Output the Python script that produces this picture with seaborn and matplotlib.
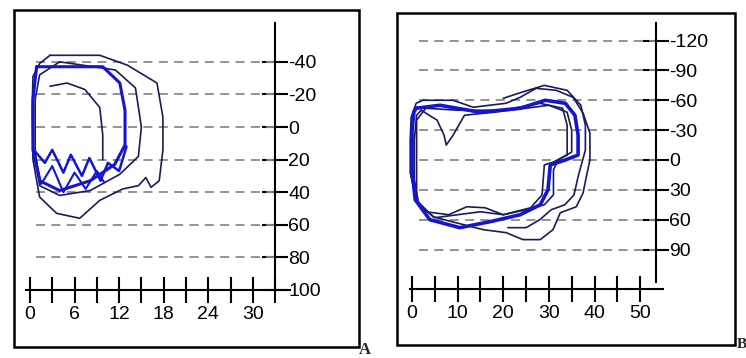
import pandas as pd
import matplotlib
matplotlib.use("Agg")
import matplotlib.pyplot as plt
import seaborn as sns
from matplotlib.patches import Rectangle

# ---- panel A: axes ----
a_xticks = [0, 3, 6, 9, 12, 15, 18, 21, 24, 27, 30, 33]
a_xlabels = [0, 6, 12, 18, 24, 30]
a_yticks = [-40, -20, 0, 20, 40, 60, 80, 100]
a_grid = [-40, -20, 0, 20, 40, 60, 80]

# ---- panel A: contours (x, y) ----
a_outer = [(2.7, -44), (9.4, -44), (13.1, -38), (17.1, -27), (17.9, -6), (17.9, 14),
           (17.4, 33), (16.3, 37), (15.6, 31), (14.6, 36), (12.5, 38), (9.4, 45),
           (6.7, 56), (3.6, 53), (1.3, 43), (0.4, 20), (0.3, -10), (0.4, -31), (1.3, -39)]
a_ring2 = [(4.0, -40), (11.5, -35), (14.2, -24), (15.0, 0), (14.6, 18), (12.1, 29),
           (8.1, 39), (4.0, 42), (1.3, 36), (0.7, 14), (0.7, -17), (1.3, -32)]
a_ring3 = [(0.9, -37), (9.8, -37), (12.1, -27), (12.8, -10), (12.8, 11), (11.4, 23),
           (8.1, 33), (4.0, 39), (1.3, 33), (0.4, 14), (0.4, -17)]
a_inner = [(2.7, -25), (5.0, -27), (7.4, -23), (9.4, -12), (9.8, 5), (9.8, 20)]
a_zig1 = [(0.5, 14), (2.0, 22), (3.0, 14), (4.5, 28), (5.5, 17), (7.0, 30), (8.0, 19),
          (9.5, 33), (10.5, 22), (12.0, 27), (13.0, 12)]
a_zig2 = [(0.8, 20), (1.5, 35), (3.0, 24), (4.5, 40), (6.0, 28), (7.5, 38), (9.0, 27),
          (10.0, 34)]

# ---- panel B: axes ----
b_xticks = [0, 5, 10, 15, 20, 25, 30, 35, 40, 45, 50]
b_xlabels = [0, 10, 20, 30, 40, 50]
b_yticks = [-120, -90, -60, -30, 0, 30, 60, 90]
b_grid = [-120, -90, -60, -30, 0, 30, 60, 90]

# ---- panel B: contours ----
b_outer = [(2.4, -60), (9.0, -60), (13.4, -53), (20.6, -57), (23.7, -63), (27.2, -72),
           (31.6, -70), (35.3, -63), (37.5, -47), (39.0, -27), (39.0, 0), (38.2, 17),
           (37.5, 33), (36.0, 47), (32.5, 53), (30.9, 70), (28.1, 80), (24.3, 80),
           (20.6, 73), (15.6, 70), (9.6, 63), (4.6, 57), (0.9, 40), (-0.4, 13),
           (-0.4, -20), (-0.2, -43), (0.9, -57)]
b_ring2 = [(0.9, -52), (6.1, -55), (14.9, -48), (23.7, -52), (29.2, -60), (33.6, -57),
           (35.7, -45), (36.4, -25), (36.4, -5), (33.6, 0), (30.3, 5), (29.8, 30),
           (28.1, 45), (23.7, 55), (17.1, 62), (10.5, 68), (3.9, 60), (0.7, 40),
           (0.0, 10), (0.0, -30), (0.4, -48)]
b_ring3 = [(2.0, -50), (5.5, -40), (7.0, -25), (7.5, -15), (9.0, -25), (11.5, -45),
           (18.0, -48), (25.0, -52), (30.0, -55), (34.0, -48), (35.0, -30), (35.0, -8),
           (32.0, 0), (31.0, 10), (31.0, 35), (29.0, 45), (25.0, 50), (20.0, 55),
           (15.0, 52), (10.0, 55), (5.0, 58), (1.5, 45), (0.5, 20), (0.5, -20), (1.0, -45)]
b_ring4 = [(3.0, -52), (10.0, -50), (20.0, -50), (28.0, -57), (33.0, -52), (34.0, -35),
           (34.0, -5), (31.0, 2), (29.0, 5), (28.5, 35), (26.0, 48), (20.0, 55),
           (16.0, 48), (12.0, 47), (8.0, 55), (3.0, 52), (1.0, 40), (1.0, -40)]
b_ring5 = [(20.0, -62), (24.0, -68), (29.0, -75), (34.0, -70), (37.0, -55), (38.0, -35),
           (38.0, -10), (36.5, 15), (35.5, 35), (33.5, 45), (30.5, 50), (28.0, 60),
           (25.0, 68), (21.0, 68)]

DARK = "#1b1b5c"
BLUE = "#1414d4"

sns.set_style("white")
plt.rcParams["font.family"] = ["Liberation Sans", "DejaVu Sans"]

fig = plt.figure(figsize=(7.46, 3.58), dpi=100)
axA = fig.add_axes([14 / 746, 1 - 347 / 358, 345 / 746, 337 / 358])
axB = fig.add_axes([397 / 746, 1 - 345 / 358, 338 / 746, 332 / 358])


def draw_curve(ax, pts, color, lw, closed=True):
    if closed:
        pts = pts + [pts[0]]
    df = pd.DataFrame(pts, columns=["x", "y"])
    sns.lineplot(data=df, x="x", y="y", sort=False, estimator=None,
                 color=color, linewidth=lw, ax=ax)


def setup(ax, xticks, xlabels, yticks, grid, yax_x, xax_y, ybounds, xbounds,
          gstart, xlim, ylim):
    ax.set_xlim(*xlim)
    ax.set_ylim(*ylim)
    for s in ["left", "top"]:
        ax.spines[s].set_visible(False)
    ax.spines["right"].set_position(("data", yax_x))
    ax.spines["right"].set_bounds(*ybounds)
    ax.spines["bottom"].set_position(("data", xax_y))
    ax.spines["bottom"].set_bounds(*xbounds)
    for s in ["right", "bottom"]:
        ax.spines[s].set_visible(True)
        ax.spines[s].set_linewidth(1.5)
        ax.spines[s].set_color("black")
    ax.yaxis.tick_right()
    ax.xaxis.tick_bottom()
    ax.set_xticks(xticks)
    ax.set_xticklabels([str(t) if t in xlabels else "" for t in xticks])
    ax.set_yticks(yticks)
    ax.set_yticklabels([str(t) for t in yticks])
    ax.tick_params(axis="both", direction="inout", length=19, width=1.5,
                   labelsize=14, colors="black")
    ax.tick_params(axis="x", pad=2)
    ax.tick_params(axis="y", pad=0)
    ax.hlines(grid, gstart, yax_x, colors="#8a8a8a", linewidth=1.3,
              linestyles=(0, (5, 3.5)), zorder=1)
    ax.add_patch(Rectangle((0, 0), 1, 1, transform=ax.transAxes, fill=False,
                           lw=1.8, edgecolor="black", clip_on=False, zorder=5))


draw_curve(axA, a_outer, DARK, 1.2)
draw_curve(axA, a_ring2, DARK, 1.2)
draw_curve(axA, a_ring3, BLUE, 2.2)
draw_curve(axA, a_inner, DARK, 1.2, closed=False)
draw_curve(axA, a_zig1, BLUE, 1.8, closed=False)
draw_curve(axA, a_zig2, BLUE, 1.5, closed=False)

draw_curve(axB, b_outer, DARK, 1.2)
draw_curve(axB, b_ring5, DARK, 1.2, closed=False)
draw_curve(axB, b_ring3, DARK, 1.2)
draw_curve(axB, b_ring4, DARK, 1.2)
draw_curve(axB, b_ring2, BLUE, 2.6)

setup(axA, a_xticks, a_xlabels, a_yticks, a_grid, 33, 100, (-64, 100), (-0.5, 35),
      0.8, (-2.15, 44.3), (135, -71.8))
setup(axB, b_xticks, b_xlabels, b_yticks, b_grid, 53.5, 130, (-138, 123), (-0.5, 55),
      1.5, (-3.3, 70.8), (185.9, -147.7))
for ax in (axA, axB):
    ax.set_xlabel("")
    ax.set_ylabel("")

fig.text(359 / 746, 0.0, "A", fontsize=12, fontweight="bold",
         family=["Liberation Serif", "DejaVu Serif"], ha="left", va="bottom")
fig.text(737 / 746, 0.02, "B", fontsize=11, fontweight="bold",
         family=["Liberation Serif", "DejaVu Serif"], ha="left", va="bottom")

fig.savefig("out.png", dpi=100, facecolor="white")
